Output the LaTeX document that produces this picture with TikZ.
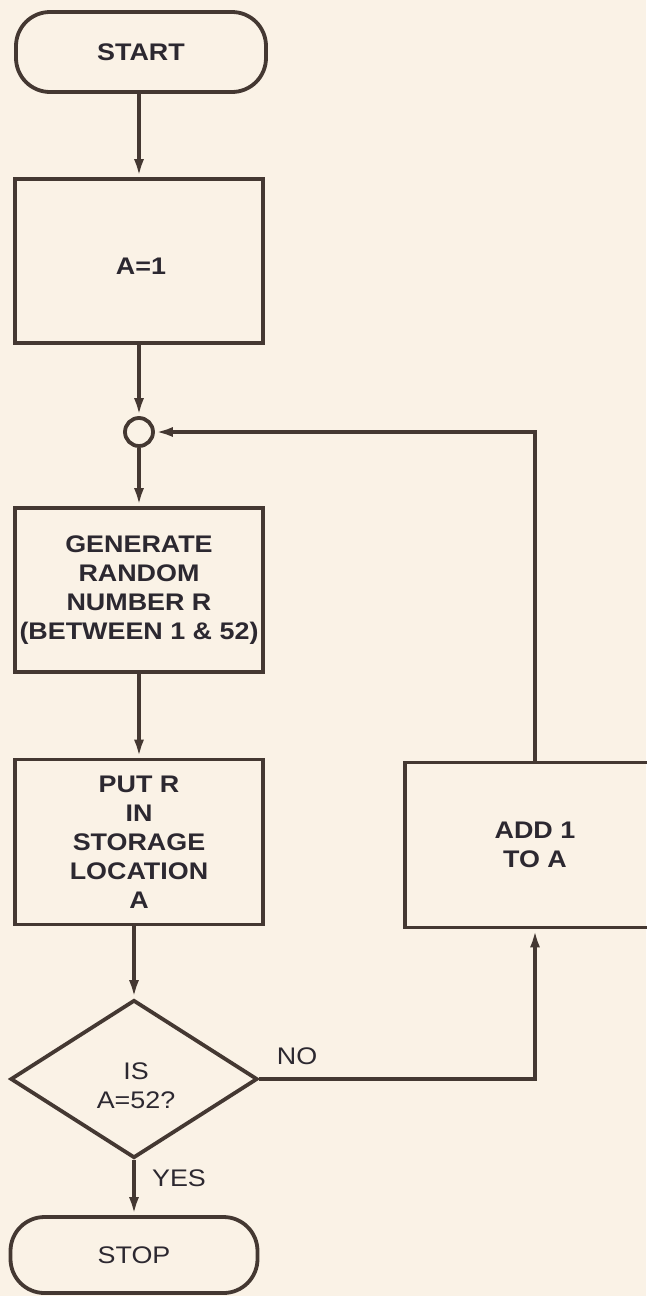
\documentclass[tikz,border=0pt]{standalone}
\usepackage{fontspec}
\setmainfont{Liberation Sans}[FakeStretch=1.12]
\usetikzlibrary{shapes.geometric,arrows.meta}
\definecolor{bg}{RGB}{250,242,230}
\definecolor{ink}{RGB}{68,56,50}
\definecolor{txt}{RGB}{44,40,48}
\begin{document}
\begin{tikzpicture}[x=1pt,y=-1pt,
  line width=3.8pt, draw=ink,
  every node/.style={text=txt,font=\fontsize{24}{29}\selectfont\bfseries,align=center,inner sep=0pt},
  procbox/.style={draw=ink,rectangle,minimum width=#1},
  procbox/.default=248pt,
  termbox/.style={draw=ink,rectangle,rounded corners=34pt},
  decbox/.style={draw=ink,diamond,aspect=1.56,minimum width=247pt,minimum height=158pt},
  junc/.style={draw=ink,circle,minimum size=28pt},
  arr/.style={draw=ink,-{Latex[length=18pt,width=10pt]}},
  lbl/.style={font=\fontsize{24}{29}\selectfont}
]
\fill[bg] (0,0) rectangle (646,1296);
\useasboundingbox (0,0) rectangle (646,1296);

\node[termbox,minimum width=250pt,minimum height=80pt] (start) at (141,52) {START};
\node[procbox,minimum height=164pt] (a1) at (139,261) {};
\node at (141,266) {A=1};
\node[junc] (j) at (139,432) {};
\node[procbox,minimum height=164pt] (gen) at (139,590) {GENERATE\\RANDOM\\NUMBER R\\(BETWEEN 1 \& 52)};
\node[procbox,minimum height=165pt] (put) at (139,842) {PUT R\\IN\\STORAGE\\LOCATION\\A};
\node[procbox=260pt,minimum height=165pt] (add) at (535,845) {ADD 1\\TO A};
\node[decbox] (dec) at (134,1079) {};
\node[lbl] at (136,1086) {IS\\A=52?};
\node[termbox,minimum width=247pt,minimum height=76pt,lbl] (stop) at (134,1255) {STOP};
\node[lbl] (no) at (297,1056) {NO};
\node[lbl] (yes) at (179,1178) {YES};

\draw[arr] (start.south -| a1.north) -- (a1.north);
\draw[arr] (a1.south) -- (j.north);
\draw[arr] (j.south) -- (gen.north);
\draw[arr] (gen.south) -- (put.north);
\draw[arr] (dec.north |- put.south) -- (dec.north);
\draw[arr] (dec.south) -- (stop.north);
\draw[arr] (dec.east) -| (add.south);
\draw[arr] (add.north) |- (j.east);
\end{tikzpicture}
\end{document}
